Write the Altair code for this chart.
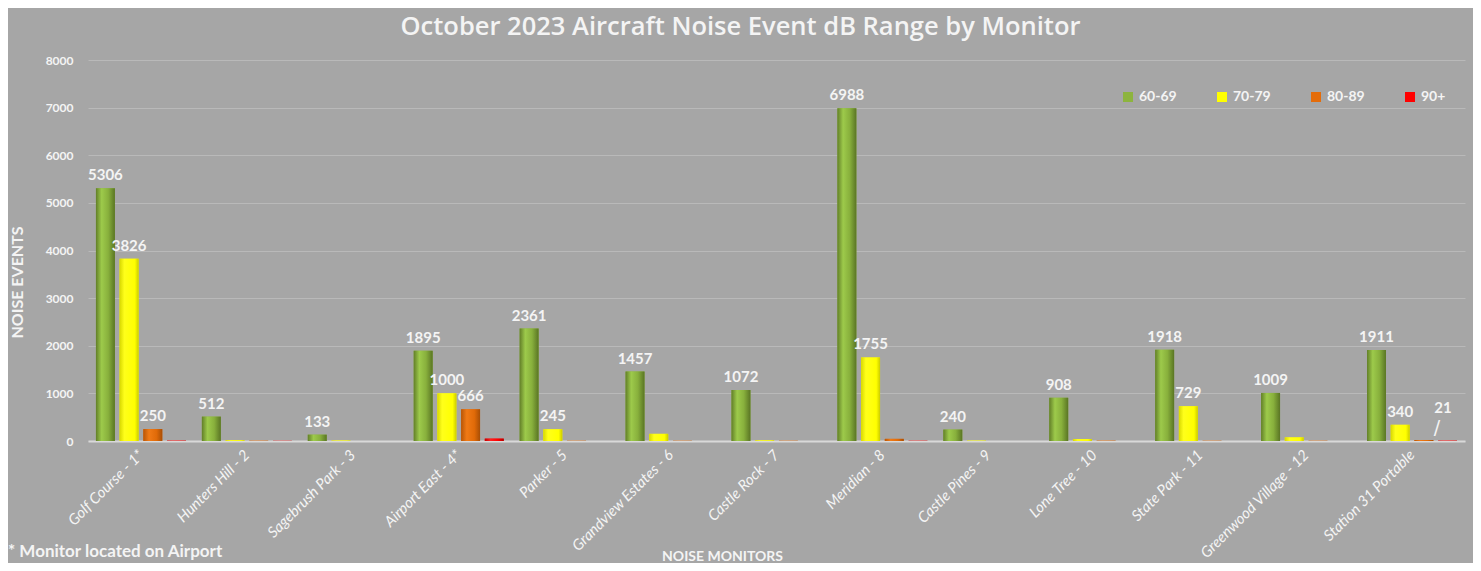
import altair as alt
import pandas as pd

monitors = ["Golf Course - 1*", "Hunters Hill - 2", "Sagebrush Park - 3", "Airport East - 4*",
            "Parker - 5", "Grandview Estates - 6", "Castle Rock - 7", "Meridian - 8",
            "Castle Pines - 9", "Lone Tree - 10", "State Park - 11", "Greenwood Village - 12",
            "Station 31 Portable"]
series = ["60-69", "70-79", "80-89", "90+"]

v_60_69 = [5306, 512, 133, 1895, 2361, 1457, 1072, 6988, 240, 908, 1918, 1009, 1911]
v_70_79 = [3826, 15, 8, 1000, 245, 150, 12, 1755, 6, 40, 729, 75, 340]
v_80_89 = [250, 5, 0, 666, 4, 4, 4, 45, 0, 4, 4, 4, 21]
v_90_up = [6, 3, 0, 50, 0, 0, 0, 4, 0, 0, 0, 0, 6]

# which values carry a data label (1 = above bar, 2 = lifted label with leader line)
lab_60_69 = [1] * 13
lab_70_79 = [1, 0, 0, 1, 1, 0, 0, 1, 0, 0, 1, 0, 1]
lab_80_89 = [1, 0, 0, 1, 0, 0, 0, 0, 0, 0, 0, 0, 2]
lab_90_up = [0] * 13

colors = ["#8db43e", "#ffff00", "#e46c0a", "#ff0000"]
title_text = "October 2023 Aircraft Noise Event dB Range by Monitor"
note_text = "* Monitor located on Airport"

rows = []
for vals, labs, s in zip([v_60_69, v_70_79, v_80_89, v_90_up],
                         [lab_60_69, lab_70_79, lab_80_89, lab_90_up], series):
    for m, v, l in zip(monitors, vals, labs):
        rows.append({"monitor": m, "range": s, "events": v, "lab": l, "label": str(v)})
df = pd.DataFrame(rows)

TXT = "#f4f4f4"
FONT = "Lato"

x_enc = alt.X("monitor:N", sort=monitors,
              scale=alt.Scale(paddingInner=0.15, paddingOuter=0.075),
              axis=alt.Axis(title="NOISE MONITORS", labelAngle=-45, labelAlign="right",
                            labelBaseline="middle", labelPadding=11, labelFontSize=15,
                            labelFontStyle="italic", labelColor=TXT, labelFont=FONT,
                            ticks=False, domainColor="#d9d9d9", domainWidth=2,
                            titleX=634, titleY=115, titleAlign="center", titleBaseline="middle",
                            titleFontSize=14, titleFontWeight="bold", titleColor=TXT,
                            titleFont=FONT, grid=False))
xo_enc = alt.XOffset("range:N", sort=series,
                     scale=alt.Scale(domain=series, paddingInner=0.2, paddingOuter=0))
y_enc = alt.Y("events:Q", scale=alt.Scale(domain=[0, 8000], nice=False),
              axis=alt.Axis(title="NOISE EVENTS", values=list(range(0, 8001, 1000)),
                            format="d",
                            labelFontSize=12, labelFontWeight="bold", labelColor=TXT,
                            labelFont=FONT, labelPadding=15, ticks=False, domain=False,
                            gridColor="#b9b9b9", gridWidth=1,
                            titleX=-71, titleY=222, titleAngle=-90, titleAlign="center",
                            titleBaseline="middle", titleFontSize=16, titleFontWeight="bold",
                            titleColor=TXT, titleFont=FONT))

base = alt.Chart(df).mark_bar().encode(
    x=x_enc, xOffset=xo_enc, y=y_enc,
    color=alt.Color("range:N", sort=series,
                    scale=alt.Scale(domain=series, range=colors),
                    legend=alt.Legend(orient="none", legendX=1033, legendY=30,
                                      direction="horizontal", title=None,
                                      symbolType="square", symbolSize=100,
                                      symbolStrokeWidth=0, labelFontSize=14,
                                      labelFontWeight="bold", labelColor=TXT,
                                      labelFont=FONT, columnPadding=38, labelOffset=4,
                                      gridAlign="all")))


def grad(stops):
    return alt.LinearGradient(gradient="linear", x1=0, x2=1, y1=0, y2=0,
                              stops=[alt.GradientStop(offset=o, color=c) for o, c in stops])


grads = [
    grad([(0, "#627f28"), (0.3, "#9dca4b"), (0.65, "#88b03c"), (1, "#5a7524")]),
    grad([(0, "#d8d800"), (0.25, "#ffff1a"), (0.8, "#ffff00"), (1, "#cccc00")]),
    grad([(0, "#b85607"), (0.3, "#f07a16"), (0.7, "#e06a08"), (1, "#a84e05")]),
    grad([(0, "#c00000"), (0.3, "#ff2020"), (0.7, "#ff0000"), (1, "#b00000")]),
]

layers = [base]
for s, g in zip(series, grads):
    layers.append(
        alt.Chart(df).transform_filter(alt.datum.range == s)
        .mark_bar(color=g).encode(x=x_enc, xOffset=xo_enc, y=y_enc)
    )

labels = alt.Chart(df).transform_filter(alt.datum.lab == 1).mark_text(
    dy=-5, baseline="bottom", align="center", fontSize=15, fontWeight="bold",
    color=TXT, font=FONT
).encode(x=x_enc, xOffset=xo_enc, y=y_enc, text="label:N")

lifted = alt.Chart(df).transform_filter(alt.datum.lab == 2).mark_text(
    dy=-24, dx=19, baseline="bottom", align="center", fontSize=15, fontWeight="bold",
    color=TXT, font=FONT
).encode(x=x_enc, xOffset=xo_enc, y=y_enc, text="label:N")

leader = alt.Chart(df).transform_filter(alt.datum.lab == 2).mark_text(
    dy=-2, dx=13, baseline="bottom", align="center", fontSize=19,
    color=TXT, font="DejaVu Sans", text="/"
).encode(x=x_enc, xOffset=xo_enc, y=y_enc)

note = alt.Chart(pd.DataFrame({"note": [note_text]})).mark_text(
    align="left", baseline="middle", fontSize=17, fontWeight="bold", color=TXT, font=FONT
).encode(x=alt.value(-80), y=alt.value(492), text="note:N")

chart = alt.layer(*layers, labels, lifted, leader, note).properties(
    width=1377, height=381,
    autosize="none",
    padding={"left": 80, "top": 52, "right": 8, "bottom": 122},
    title=alt.TitleParams(title_text, anchor="middle", fontSize=25.5, fontWeight=600,
                          color=TXT, font="Open Sans", offset=14, dx=-36),
).configure(background="#a6a6a6").configure_view(stroke=None)

chart.save("out.html", embed_options={"renderer": "svg", "actions": False})
